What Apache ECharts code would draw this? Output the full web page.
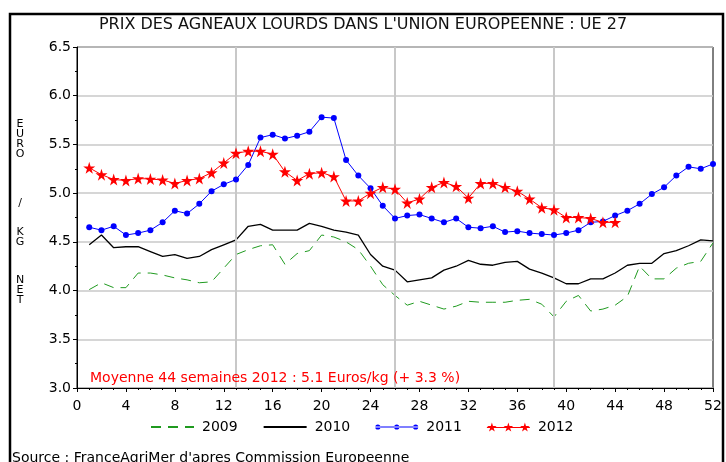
<!DOCTYPE html>
<html>
<head>
<meta charset="utf-8">
<script src="https://cdn.jsdelivr.net/npm/echarts@6/dist/echarts.min.js"></script>
<style>
  html, body { margin: 0; padding: 0; background: #fff; }
  #chart { width: 726px; height: 462px; }
</style>
</head>
<body>
<div id="chart"></div>
<script>
// weekly price, euro / kg net
var w2009 = [4.01, 4.08, 4.03, 4.03, 4.18, 4.18, 4.16, 4.13, 4.11, 4.08, 4.09, 4.23, 4.37,
  4.42, 4.46, 4.47, 4.27, 4.38, 4.41, 4.57, 4.55, 4.50, 4.42, 4.25, 4.06, 3.95,
  3.85, 3.89, 3.85, 3.81, 3.84, 3.89, 3.88, 3.88, 3.88, 3.90, 3.91, 3.86, 3.73,
  3.89, 3.95, 3.79, 3.81, 3.85, 3.94, 4.25, 4.12, 4.12, 4.23, 4.28, 4.30, 4.49];
var w2010 = [4.47, 4.57, 4.44, 4.45, 4.45, 4.40, 4.35, 4.37, 4.33, 4.35, 4.42, 4.47, 4.52,
  4.66, 4.68, 4.62, 4.62, 4.62, 4.69, 4.66, 4.62, 4.60, 4.57, 4.37, 4.25, 4.21,
  4.09, 4.11, 4.13, 4.21, 4.25, 4.31, 4.27, 4.26, 4.29, 4.30, 4.22, 4.18, 4.13,
  4.07, 4.07, 4.12, 4.12, 4.18, 4.26, 4.28, 4.28, 4.38, 4.41, 4.46, 4.52, 4.51];
var w2011 = [4.65, 4.62, 4.66, 4.57, 4.59, 4.62, 4.70, 4.82, 4.79, 4.89, 5.02, 5.09, 5.14,
  5.29, 5.57, 5.60, 5.56, 5.59, 5.63, 5.78, 5.77, 5.34, 5.18, 5.05, 4.87, 4.74,
  4.77, 4.78, 4.74, 4.70, 4.74, 4.65, 4.64, 4.66, 4.60, 4.61, 4.59, 4.58, 4.57,
  4.59, 4.62, 4.70, 4.71, 4.77, 4.82, 4.89, 4.99, 5.06, 5.18, 5.27, 5.25, 5.30];
var w2012 = [5.26, 5.19, 5.14, 5.13, 5.15, 5.145, 5.135, 5.10, 5.13, 5.15, 5.21, 5.31, 5.41,
  5.43, 5.43, 5.40, 5.22, 5.13, 5.20, 5.21, 5.17, 4.92, 4.92, 5.00, 5.06, 5.04,
  4.90, 4.94, 5.06, 5.11, 5.07, 4.95, 5.10, 5.10, 5.06, 5.02, 4.94, 4.85, 4.83,
  4.75, 4.75, 4.74, 4.70, 4.70];
var years = ['2009', '2010', '2011', '2012'];
var quarterWeeks = [13, 26, 39];
var note = 'Moyenne 44 semaines 2012 : 5.1 Euros/kg (+ 3.3 %)';
var source = 'Source : FranceAgriMer d\'apres Commission Europeenne';
// vertical axis title, in the four stacked groups of the original
var unitGroups = ['E\nU\nR\nO', '/', 'K\nG', 'N\nE\nT'];

var FONT = '"DejaVu Sans", sans-serif';
var GRID = '#c8c8c8';
var GREEN = '#1f9a1f';
var STAR = 'path://M50,0 L61,35 L98,35 L68,57 L79,91 L50,70 L21,91 L32,57 L2,35 L39,35 Z';

// legend glyphs: a line with three markers, like the SAS legend
function dotIcon() {
  var p = 'M0,4.4 L43,4.4 L43,5.6 L0,5.6 Z';
  [2.6, 21.5, 40.4].forEach(function (cx) {
    p += ' M' + (cx - 2.6) + ',5 a2.6,2.6 0 1,0 5.2,0 a2.6,2.6 0 1,0 -5.2,0 Z';
  });
  return 'path://' + p;
}
function starIcon() {
  var pts = [[5, 0], [6.1, 3.5], [9.8, 3.5], [6.8, 5.7], [7.9, 9.1], [5, 7], [2.1, 9.1], [3.2, 5.7], [0.2, 3.5], [3.9, 3.5]];
  var p = 'M0,4.6 L43,4.6 L43,5.6 L0,5.6 Z';
  [0, 16.5, 33].forEach(function (dx) {
    p += ' M' + pts.map(function (q) { return (q[0] + dx) + ',' + q[1]; }).join(' L') + ' Z';
  });
  return 'path://' + p;
}

function pairs(arr) {
  return arr.map(function (v, i) { return [i + 1, v]; });
}

var chart = echarts.init(document.getElementById('chart'), null, { renderer: 'canvas' });

var unitTops = [119, 198, 227, 275];

chart.setOption({
  animation: false,
  textStyle: { fontFamily: FONT },
  title: {
    text: 'PRIX DES AGNEAUX LOURDS DANS L\'UNION EUROPEENNE : UE 27',
    left: 'center', top: 12,
    textStyle: { fontFamily: FONT, fontSize: 16, fontWeight: 'normal', color: '#111' }
  },
  grid: {
    left: 77, right: 13, top: 47, bottom: 74,
    show: true, borderColor: '#000', borderWidth: 1, backgroundColor: 'transparent'
  },
  legend: {
    top: 415, left: 145,
    itemWidth: 43, itemHeight: 10, itemGap: 25,
    data: [
      { name: years[0], itemStyle: { opacity: 0 } },
      { name: years[1], itemStyle: { opacity: 0 } },
      { name: years[2], icon: dotIcon() },
      { name: years[3], icon: starIcon() }
    ],
    textStyle: { fontFamily: FONT, fontSize: 14, color: '#000', padding: [0, 0, 0, 3] }
  },
  xAxis: {
    type: 'value', min: 0, max: 52, interval: 4,
    axisLine: { lineStyle: { color: '#000' } },
    axisTick: { length: 4, lineStyle: { color: '#000' } },
    minorTick: { show: true, splitNumber: 4, length: 2, lineStyle: { color: '#000' } },
    splitLine: { show: false },
    axisLabel: { fontFamily: FONT, fontSize: 14, color: '#000', margin: 11 }
  },
  yAxis: {
    type: 'value', min: 3, max: 6.5, interval: 0.5,
    axisLine: { show: true, lineStyle: { color: '#000' } },
    axisTick: { show: true, length: 4, lineStyle: { color: '#000' } },
    minorTick: { show: true, splitNumber: 2, length: 2, lineStyle: { color: '#000' } },
    splitLine: { show: true, lineStyle: { color: GRID, width: 1.5 } },
    axisLabel: {
      fontFamily: FONT, fontSize: 14, color: '#000', margin: 6,
      formatter: function (v) { return v.toFixed(1); }
    }
  },
  graphic: [
    {
      type: 'rect', silent: true,
      shape: { x: 10, y: 14, width: 713, height: 470 },
      style: { fill: null, stroke: '#000', lineWidth: 2.5 }
    },
    {
      type: 'text', left: 90, top: 371, z: 100,
      style: { text: note, fill: '#ff0000', font: '14px ' + FONT }
    },
    {
      type: 'text', left: 12, top: 451,
      style: { text: source, fill: '#000', font: '14px ' + FONT }
    }
  ].concat(unitGroups.map(function (t, i) {
    return {
      type: 'text', x: 20, y: unitTops[i],
      style: {
        text: t, fill: '#000', font: '11px ' + FONT, lineHeight: 10,
        textAlign: 'center', textVerticalAlign: 'top'
      }
    };
  })),
  series: [
    {
      name: years[0], type: 'line', data: pairs(w2009),
      showSymbol: false, symbol: 'none',
      lineStyle: { color: GREEN, width: 1, type: [10, 7] },
      itemStyle: { color: GREEN },
      markLine: {
        silent: true, symbol: 'none', label: { show: false },
        lineStyle: { color: GRID, width: 2, type: 'solid' },
        data: quarterWeeks.map(function (w) { return { xAxis: w }; })
      },
      z: 3
    },
    {
      name: years[1], type: 'line', data: pairs(w2010),
      showSymbol: false, symbol: 'none',
      lineStyle: { color: '#000', width: 1.3 },
      itemStyle: { color: '#000' },
      z: 4
    },
    {
      name: years[2], type: 'line', data: pairs(w2011),
      symbol: 'circle', symbolSize: 6,
      lineStyle: { color: '#0000ff', width: 1 },
      itemStyle: { color: '#0000ff' },
      z: 5
    },
    {
      name: years[3], type: 'line', data: pairs(w2012),
      symbol: STAR, symbolSize: 12,
      lineStyle: { color: '#ff0000', width: 1 },
      itemStyle: { color: '#ff0000' },
      z: 6
    }
  ]
});
</script>
</body>
</html>
